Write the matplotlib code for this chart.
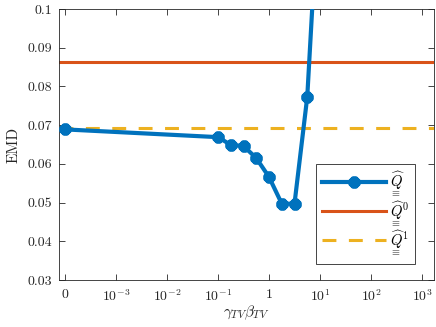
import numpy as np
import matplotlib
matplotlib.use("Agg")
import matplotlib.pyplot as plt

# ---- data ----
gamma = [0, 0.1, 0.178, 0.316, 0.562, 1.0, 1.78, 3.16, 5.62, 10.0]
emd_q = [0.0689, 0.0669, 0.0649, 0.0646, 0.0615, 0.0566, 0.0497, 0.0497, 0.0773, 0.136]
emd_q0 = 0.0864
emd_q1 = 0.0692
xtick_vals = [0, 1e-3, 1e-2, 1e-1, 1, 10, 100, 1000]
xtick_labels = ['$0$', '$10^{-3}$', '$10^{-2}$', '$10^{-1}$', '$1$', '$10^{1}$', '$10^{2}$', '$10^{3}$']
ytick_vals = [0.03, 0.04, 0.05, 0.06, 0.07, 0.08, 0.09, 0.1]
ytick_labels = ['0.03', '0.04', '0.05', '0.06', '0.07', '0.08', '0.09', '0.1']
labels = [r'$\underset{\equiv}{\widehat{Q}}$',
          r'$\underset{\equiv}{\widehat{Q}}^{0}$',
          r'$\underset{\equiv}{\widehat{Q}}^{1}$']

plt.rcParams['font.family'] = 'serif'
plt.rcParams['font.serif'] = ['cmr10', 'DejaVu Serif']
plt.rcParams['mathtext.fontset'] = 'cm'
plt.rcParams['axes.unicode_minus'] = False
plt.rcParams['lines.scale_dashes'] = False


def pos(v):
    v = np.asarray(v, dtype=float)
    out = np.full(v.shape, -4.0)
    m = v > 0
    out[m] = np.log10(v[m])
    return out


blue = '#0072BD'
orange = '#D95319'
yellow = '#EDB120'
dark = '#262626'

fig = plt.figure(figsize=(4.36, 3.27), dpi=100)
ax = fig.add_axes([59/436, 1-280/327, (434-59)/436, (280-9)/327])

xp = pos(gamma)
l1, = ax.plot(xp, emd_q, color=blue, lw=3, marker=(8, 2, 0), ms=8.5, mew=3.2,
              mec=blue, zorder=3)
l2 = ax.axhline(emd_q0, color=orange, lw=2.2, zorder=2)
l3 = ax.axhline(emd_q1, color=yellow, lw=2.2, dashes=(10, 9), zorder=2)

ax.set_xlim(-4.118, 3.235)
ax.set_ylim(0.03, 0.1)
ax.set_xticks(pos(xtick_vals))
ax.set_xticklabels(xtick_labels)
ax.set_yticks(ytick_vals)
ax.set_yticklabels(ytick_labels)
ax.tick_params(direction='in', top=True, right=True, length=4, width=0.6,
               colors=dark, labelsize=10)
ax.tick_params(axis='x', pad=6)
ax.tick_params(axis='y', pad=5)
for s in ax.spines.values():
    s.set_color(dark)
    s.set_linewidth(0.6)

ax.set_xlabel(r'$\gamma_{TV}\beta_{TV}$', fontsize=11, color=dark, labelpad=0)
ax.set_ylabel('EMD', fontsize=11, color=dark, labelpad=5)

leg = ax.legend([l1, l2, l3], labels, loc='upper right',
                bbox_to_anchor=(0.949, 0.428), borderaxespad=0, fontsize=10.5,
                handlelength=4.4, handletextpad=0.3, labelspacing=0.0,
                borderpad=0.4, fancybox=False, framealpha=1, edgecolor=dark,
                numpoints=1)
leg.get_frame().set_linewidth(0.6)

fig.savefig('out.png', dpi=100)
